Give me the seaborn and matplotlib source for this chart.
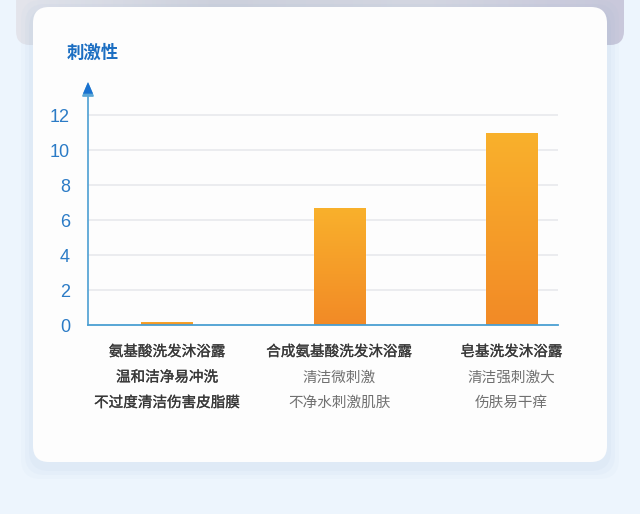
import numpy as np
import pandas as pd
import seaborn as sns
import matplotlib.pyplot as plt
import matplotlib.patheffects as pe
from matplotlib.patches import FancyBboxPatch
from matplotlib.colors import LinearSegmentedColormap
import matplotlib.transforms as mtransforms

# data
products = ['氨基酸洗发沐浴露', '合成氨基酸洗发沐浴露', '皂基洗发沐浴露']
irritation = [0.2, 6.7, 11.0]
line2 = ['温和洁净易冲洗', '清洁微刺激', '清洁强刺激大']
line3 = ['不过度清洁伤害皮脂膜', '不净水刺激肌肤', '伤肤易干痒']
yticks = [0, 2, 4, 6, 8, 10, 12]

df = pd.DataFrame({'product': products, 'value': irritation})

sns.set_theme(style='white')
plt.rcParams['font.family'] = ['Noto Sans CJK SC', 'DejaVu Sans']

W, H = 640, 514
fig = plt.figure(figsize=(6.4, 5.14), dpi=100)
fig.patch.set_facecolor('#edf5fd')

# photo-ish strip behind the card top
strip = LinearSegmentedColormap.from_list('strip', ['#e4e5ec', '#cfd2dd', '#d6d8e2', '#c9c8db'])
bg = fig.add_axes([0, 0, 1, 1], zorder=-20)
bg.set_axis_off()
bg.set_xlim(0, W)
bg.set_ylim(H, 0)
sp = FancyBboxPatch((16, -30), 608, 75, boxstyle='round,pad=0,rounding_size=14',
                    facecolor='none', edgecolor='none')
bg.add_patch(sp)
im = bg.imshow(np.linspace(0, 1, 256).reshape(1, -1), extent=[16, 624, 45, 0],
               aspect='auto', cmap=strip)
im.set_clip_path(sp)
bg.set_xlim(0, W)
bg.set_ylim(H, 0)
# soft shadow + white card
for g, a in [(12, 0.04), (8, 0.05), (4, 0.06)]:
    bg.add_patch(FancyBboxPatch((33 - g, 7 - g + 5), 574 + 2 * g, 455 + 2 * g,
                                boxstyle='round,pad=0,rounding_size=20',
                                facecolor='#8fb2d6', edgecolor='none', alpha=a))
bg.add_patch(FancyBboxPatch((33, 7), 574, 455, boxstyle='round,pad=0,rounding_size=16',
                            facecolor='#fdfdfd', edgecolor='none'))

ax = fig.add_axes([88 / W, (H - 325) / H, 470 / W, 243 / H])
ax.set_facecolor('none')

sns.barplot(data=df, x='product', y='value', width=0.30, color='#f59a28', ax=ax, zorder=3)

# vertical gradient fill for the bars
cmap = LinearSegmentedColormap.from_list('bar', ['#f28a26', '#f9b12c'])
grad = np.linspace(0, 1, 256).reshape(-1, 1)
for p in ax.patches:
    x0, y0 = p.get_x(), p.get_y()
    im = ax.imshow(grad, extent=[x0, x0 + p.get_width(), y0, y0 + p.get_height()],
                   origin='lower', aspect='auto', cmap=cmap, zorder=4)
    im.set_clip_path(p)

ax.set_xlim(-0.46, 2.27)
ax.set_ylim(0, 13.9)
ax.set_yticks(yticks)
ax.set_yticklabels([str(t) for t in yticks], color='#2b7bc6', fontsize=13,
                   family=['Liberation Sans', 'DejaVu Sans'])
ax.tick_params(axis='y', length=0, pad=13)
ax.set_xticks(range(len(products)))
ax.set_xticklabels([])
ax.tick_params(axis='x', length=0)
ax.set_xlabel('')
ax.set_ylabel('')
for t in yticks[1:]:
    ax.axhline(t, color='#e6e8eb', lw=1.1, zorder=1)

for s in ['top', 'right', 'left']:
    ax.spines[s].set_visible(False)
ax.spines['bottom'].set_color('#4a9fd2')
ax.spines['bottom'].set_linewidth(1.3)
ax.spines['bottom'].set_zorder(5)

# y axis with arrow head
ax.annotate('', xy=(0, 1.0), xytext=(0, 0), xycoords='axes fraction',
            arrowprops=dict(arrowstyle='-|>,head_length=0.7,head_width=0.3',
                            color='#5aa6d6', lw=1.3, shrinkA=0, shrinkB=0))
ax.annotate('', xy=(0, 1.0), xytext=(0, 0.96), xycoords='axes fraction',
            arrowprops=dict(arrowstyle='-|>,head_length=0.7,head_width=0.3',
                            color='#1a72d0', lw=0, shrinkA=0, shrinkB=0))

fig.text(67 / W, 1 - 53 / H, '刺激性', color='#1b6ec2', fontsize=12.5, fontweight='bold', va='center')

# multi-line category labels
trans = mtransforms.blended_transform_factory(ax.transData, fig.transFigure)
for i in range(len(products)):
    rows = [products[i], line2[i], line3[i]]
    for j, txt in enumerate(rows):
        dark = (j == 0) or (i == 0)
        col = '#383838' if dark else '#707070'
        t = ax.text(i, 1 - (352 + 25.5 * j) / H, txt, transform=trans, ha='center', va='center',
                    fontsize=10.5, color=col)
        if dark:
            t.set_path_effects([pe.withStroke(linewidth=0.2, foreground=col)])

fig.savefig('out.png', dpi=100)
